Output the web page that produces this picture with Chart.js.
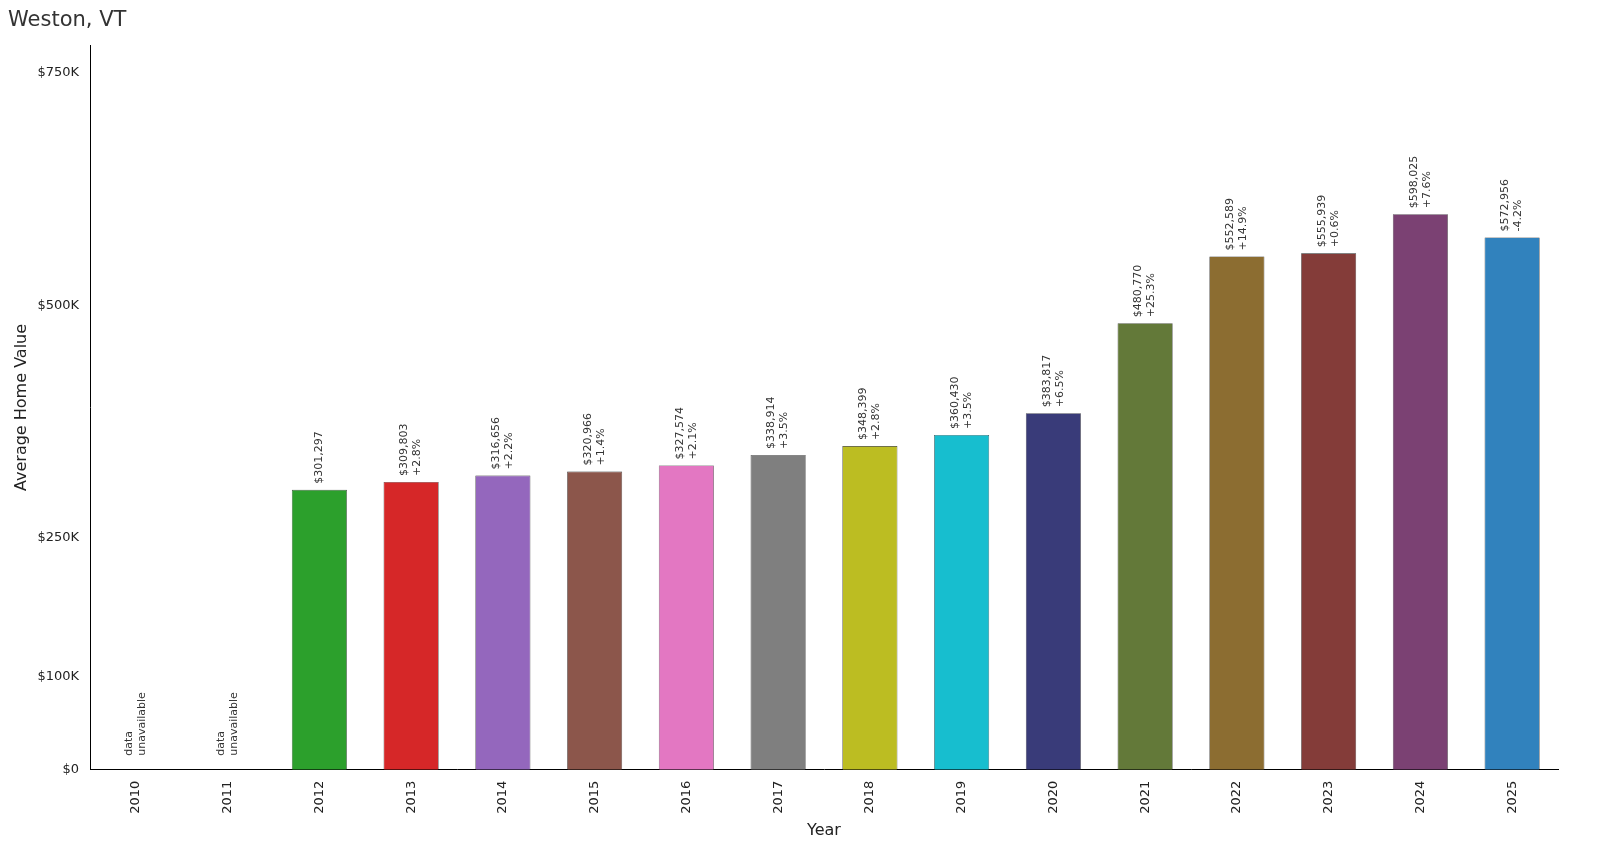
<!DOCTYPE html><html><head><script src="https://cdn.jsdelivr.net/npm/chart.js@4"></script>
<style>body{margin:0;background:#fff}#w{width:1600px;height:848px}</style></head><body><div id="w"><canvas id="c"></canvas></div>
<script>
const years=['2010','2011','2012','2013','2014','2015','2016','2017','2018','2019','2020','2021','2022','2023','2024','2025'];
const values=[null,null,301297,309803,316656,320966,327574,338914,348399,360430,383817,480770,552589,555939,598025,572956];
const changes=[null,null,null,'+2.8%','+2.2%','+1.4%','+2.1%','+3.5%','+2.8%','+3.5%','+6.5%','+25.3%','+14.9%','+0.6%','+7.6%','-4.2%'];
const colors=['#1f77b4','#ff7f0e','#2ca02c','#d62728','#9467bd','#8c564b','#e377c2','#7f7f7f','#bcbd22','#17becf','#393b79','#637939','#8c6d31','#843c39','#7b4173','#3182bd'];
const tickVals=[0,100000,250000,500000,750000];
const tickLabels=['$0','$100K','$250K','$500K','$750K'];
const lbl={id:'lbl',afterDatasetsDraw(ch){const c=ch.ctx,m=ch.getDatasetMeta(0);c.save();c.font='11px DejaVu Sans';c.fillStyle='#333';c.textBaseline='middle';
m.data.forEach((b,i)=>{let lines,y;if(values[i]==null){lines=['data','unavailable'];y=ch.scales.y.getPixelForValue(0)-14;}else{lines=['$'+values[i].toLocaleString('en-US')];if(changes[i])lines.push(changes[i]);y=b.y-6;}
c.save();c.translate(b.x,y);c.rotate(-Math.PI/2);c.textAlign='left';const n=lines.length;lines.forEach((t,k)=>c.fillText(t,0,(k-(n-1)/2)*13));c.restore();});
c.restore();}};
new Chart(document.getElementById('c'),{type:'bar',data:{labels:years,datasets:[{data:values,backgroundColor:colors,borderColor:'#222',borderWidth:0.6,categoryPercentage:0.6,barPercentage:1}]},
options:{responsive:true,maintainAspectRatio:false,animation:false,layout:{padding:{top:8,right:42,left:8,bottom:4}},
plugins:{legend:{display:false},tooltip:{enabled:false},title:{display:true,text:'Weston, VT',align:'start',color:'#333',font:{family:'DejaVu Sans',size:21,weight:'normal'},padding:{top:0,bottom:12}}},
scales:{x:{grid:{display:false},border:{color:'#000'},ticks:{color:'#222',font:{family:'DejaVu Sans',size:13},maxRotation:90,minRotation:90},title:{display:true,text:'Year',color:'#222',font:{family:'DejaVu Sans',size:16}}},
y:{min:0,max:780000,grid:{display:false},border:{color:'#000'},afterBuildTicks(s){s.ticks=tickVals.map(v=>({value:v}));},afterFit(s){s.width=82;},
ticks:{color:'#222',font:{family:'DejaVu Sans',size:13},callback:(v)=>tickLabels[tickVals.indexOf(v)]},title:{display:true,text:'Average Home Value',color:'#222',font:{family:'DejaVu Sans',size:16}}}}},plugins:[lbl]});
</script></body></html>
